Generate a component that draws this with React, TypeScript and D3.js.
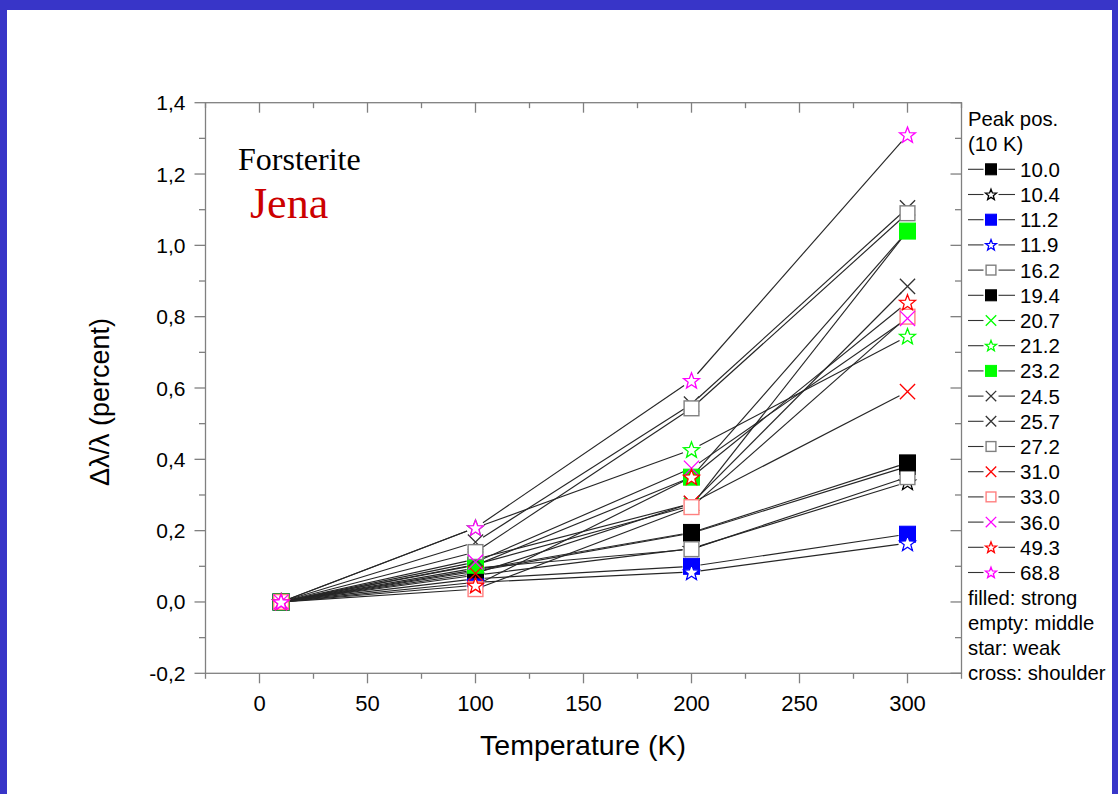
import React from 'react';
import * as d3 from 'd3';

// ---------- data ----------
const temperatures = [10, 100, 200, 300];
const peakPositions = ['10.0', '10.4', '11.2', '11.9', '16.2', '19.4', '20.7', '21.2', '23.2', '24.5', '25.7', '27.2', '31.0', '33.0', '36.0', '49.3', '68.8'];

const v10_0 = [0, 0.086, 0.193, 0.38];
const v10_4 = [0, 0.075, 0.15, 0.336];
const v11_2 = [0, 0.065, 0.1, 0.19];
const v11_9 = [0, 0.055, 0.084, 0.165];
const v16_2 = [0, 0.095, 0.148, 0.35];
const v19_4 = [0, 0.09, 0.195, 0.39];
const v20_7 = [0, 0.105, 0.27, 1.04];
const v21_2 = [0, 0.208, 0.427, 0.745];
const v23_2 = [0, 0.103, 0.35, 1.04];
const v24_5 = [0, 0.168, 0.555, 1.105];
const v25_7 = [0, 0.12, 0.276, 0.885];
const v27_2 = [0, 0.14, 0.543, 1.09];
const v31_0 = [0, 0.08, 0.277, 0.59];
const v33_0 = [0, 0.036, 0.266, 0.8];
const v36_0 = [0, 0.112, 0.375, 0.795];
const v49_3 = [0, 0.047, 0.35, 0.84];
const v68_8 = [0, 0.208, 0.621, 1.31];

const seriesValues = [v10_0, v10_4, v11_2, v11_9, v16_2, v19_4, v20_7, v21_2, v23_2, v24_5, v25_7, v27_2, v31_0, v33_0, v36_0, v49_3, v68_8];
const markerKinds = ['filled', 'star', 'filled', 'star', 'open', 'filled', 'cross', 'star', 'filled', 'cross', 'cross', 'open', 'cross', 'open', 'cross', 'star', 'star'];
const markerColors = ['#000000', '#000000', '#0000ff', '#0000ff', '#808080', '#000000', '#00ff00', '#00ff00', '#00ff00', '#333333', '#333333', '#808080', '#ff0000', '#ff8080', '#ff00ff', '#ff0000', '#ff00ff'];

const xMajorTicks = [0, 50, 100, 150, 200, 250, 300];
const xMinorTicks = [-25, 25, 75, 125, 175, 225, 275, 325];
const yMajorTicks = [-0.2, 0, 0.2, 0.4, 0.6, 0.8, 1.0, 1.2, 1.4];
const yMinorTicks = [-0.1, 0.1, 0.3, 0.5, 0.7, 0.9, 1.1, 1.3];
const legendHeader = ['Peak pos.', '(10 K)'];
const legendNotes = ['filled: strong', 'empty: middle', 'star: weak', 'cross: shoulder'];

// ---------- layout ----------
const W = 1118;
const H = 794;
const left = 205.5, right = 961.5, top = 102.7, bottom = 673.3;
const x = d3.scaleLinear().domain([-25, 325]).range([left, right]);
const y = d3.scaleLinear().domain([-0.2, 1.4]).range([bottom, top]);

const SANS = '"Liberation Sans", Arial, Helvetica, sans-serif';
const SERIF = '"Liberation Serif", "Times New Roman", serif';
const AXIS = '#808080';

function starPath(cx: number, cy: number, R: number) {
  const r = R * 0.42;
  const pts: [number, number][] = [];
  for (let k = 0; k < 10; k++) {
    const a = (-90 + k * 36) * Math.PI / 180;
    const rr = k % 2 === 0 ? R : r;
    pts.push([cx + rr * Math.cos(a), cy + rr * Math.sin(a)]);
  }
  return 'M' + pts.map(p => p[0].toFixed(2) + ',' + p[1].toFixed(2)).join('L') + 'Z';
}

function Marker({ kind, color, cx, cy, s }: { kind: string; color: string; cx: number; cy: number; s: number }) {
  if (kind === 'filled') {
    return <rect x={cx - s} y={cy - s} width={2 * s} height={2 * s} fill={color} stroke={color} strokeWidth={1} />;
  }
  if (kind === 'open') {
    return <rect x={cx - s + 0.6} y={cy - s + 0.6} width={2 * s - 1.2} height={2 * s - 1.2} fill="#ffffff" stroke={color} strokeWidth={1.4} />;
  }
  if (kind === 'star') {
    return <path d={starPath(cx, cy + s * 0.08, s * 1.05)} fill="#ffffff" stroke={color} strokeWidth={1.3} strokeLinejoin="miter" />;
  }
  const c = s * 0.95;
  return (
    <path d={`M${cx - c},${cy - c}L${cx + c},${cy + c}M${cx - c},${cy + c}L${cx + c},${cy - c}`} fill="none" stroke={color} strokeWidth={1.3} />
  );
}

function gapSegment(x1: number, y1: number, x2: number, y2: number, g: number) {
  const dx = x2 - x1, dy = y2 - y1;
  const L = Math.hypot(dx, dy);
  if (L <= 2 * g) return null;
  const ux = dx / L, uy = dy / L;
  return [x1 + ux * g, y1 + uy * g, x2 - ux * g, y2 - uy * g];
}

const fmtY = (v: number) => d3.format('.1f')(v).replace('.', ',').replace('−', '-');

export default function App() {
  const gap = 9;
  const lineSegs: JSX.Element[] = [];
  seriesValues.forEach((vals, si) => {
    for (let i = 0; i < vals.length - 1; i++) {
      const seg = gapSegment(x(temperatures[i]), y(vals[i]), x(temperatures[i + 1]), y(vals[i + 1]), gap);
      if (seg) {
        lineSegs.push(<line key={`l${si}-${i}`} x1={seg[0]} y1={seg[1]} x2={seg[2]} y2={seg[3]} stroke="#262626" strokeWidth={1.15} />);
      }
    }
  });

  const markers: JSX.Element[] = [];
  seriesValues.forEach((vals, si) => {
    vals.forEach((v, i) => {
      markers.push(<Marker key={`m${si}-${i}`} kind={markerKinds[si]} color={markerColors[si]} cx={x(temperatures[i])} cy={y(v)} s={8} />);
    });
  });

  const rowY0 = 118.9;
  const rowStep = 25.2;
  const legX = 968;

  return (
    <div style={{ position: 'fixed', left: 0, top: 0, width: W, height: H, overflow: 'hidden' }}>
      <svg width={W} height={H} viewBox={`0 0 ${W} ${H}`} style={{ display: 'block' }}>
        <rect x={0} y={0} width={W} height={H} fill="#3835c8" />
        <rect x={7} y={10} width={1105} height={H - 10} fill="#ffffff" />

        {/* frame */}
        <rect x={left} y={top} width={right - left} height={bottom - top} fill="none" stroke={AXIS} strokeWidth={1.3} />

        {/* x ticks bottom (outward) and top (inward) */}
        {xMajorTicks.map(t => (
          <g key={`xt${t}`}>
            <line x1={x(t)} x2={x(t)} y1={bottom} y2={bottom + 10} stroke={AXIS} strokeWidth={1.3} />
            <line x1={x(t)} x2={x(t)} y1={top} y2={top + 10} stroke={AXIS} strokeWidth={1.3} />
            <text x={x(t)} y={703} textAnchor="middle" dominantBaseline="central" fontFamily={SANS} fontSize={22} fill="#000">{t}</text>
          </g>
        ))}
        {xMinorTicks.map(t => (
          <g key={`xm${t}`}>
            <line x1={x(t)} x2={x(t)} y1={bottom} y2={bottom + 5.5} stroke={AXIS} strokeWidth={1.3} />
            <line x1={x(t)} x2={x(t)} y1={top} y2={top + 5.5} stroke={AXIS} strokeWidth={1.3} />
          </g>
        ))}

        {/* y ticks left (outward) and right (inward) */}
        {yMajorTicks.map(t => (
          <g key={`yt${t}`}>
            <line x1={left - 11} x2={left} y1={y(t)} y2={y(t)} stroke={AXIS} strokeWidth={1.3} />
            <line x1={right - 11} x2={right} y1={y(t)} y2={y(t)} stroke={AXIS} strokeWidth={1.3} />
            <text x={185.5} y={y(t)} textAnchor="end" dominantBaseline="central" fontFamily={SANS} fontSize={21} fill="#000">{fmtY(t)}</text>
          </g>
        ))}
        {yMinorTicks.map(t => (
          <g key={`ym${t}`}>
            <line x1={left - 6.5} x2={left} y1={y(t)} y2={y(t)} stroke={AXIS} strokeWidth={1.3} />
            <line x1={right - 6.5} x2={right} y1={y(t)} y2={y(t)} stroke={AXIS} strokeWidth={1.3} />
          </g>
        ))}

        {/* axis titles */}
        <text x={583} y={745} textAnchor="middle" dominantBaseline="central" fontFamily={SANS} fontSize={28.5} fill="#000">Temperature (K)</text>
        <text transform="translate(100,402) rotate(-90)" textAnchor="middle" dominantBaseline="central" fontFamily={SANS} fontSize={27} fill="#000">Δλ/λ (percent)</text>

        {/* annotations */}
        <text x={238} y={169.5} fontFamily={SERIF} fontSize={32} fill="#000">Forsterite</text>
        <text x={250} y={218} fontFamily={SERIF} fontSize={44} fill="#cc0000">Jena</text>

        {/* data */}
        <g>{lineSegs}</g>
        <g>{markers}</g>

        {/* legend */}
        {legendHeader.map((t, i) => (
          <text key={`lh${i}`} x={legX} y={rowY0 + i * rowStep} dominantBaseline="central" fontFamily={SANS} fontSize={20.3} fill="#000">{t}</text>
        ))}
        {peakPositions.map((p, i) => {
          const ry = rowY0 + (i + 2) * rowStep;
          return (
            <g key={`le${i}`}>
              <line x1={968} x2={983.5} y1={ry} y2={ry} stroke="#333" strokeWidth={1.1} />
              <line x1={998.5} x2={1015} y1={ry} y2={ry} stroke="#333" strokeWidth={1.1} />
              <Marker kind={markerKinds[i]} color={markerColors[i]} cx={991} cy={ry} s={5.5} />
              <text x={1020} y={ry} dominantBaseline="central" fontFamily={SANS} fontSize={20.5} fill="#000">{p}</text>
            </g>
          );
        })}
        {legendNotes.map((t, i) => (
          <text key={`ln${i}`} x={legX} y={rowY0 + (i + 19) * rowStep} dominantBaseline="central" fontFamily={SANS} fontSize={20.3} fill="#000">{t}</text>
        ))}
      </svg>
    </div>
  );
}
